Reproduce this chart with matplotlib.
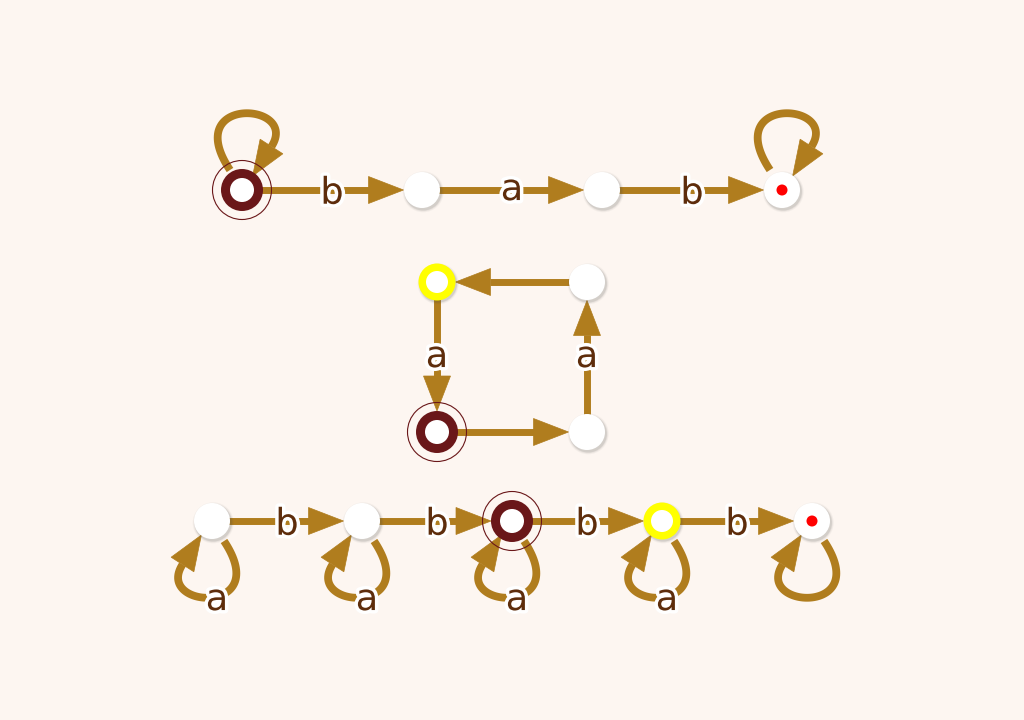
import numpy as np
import matplotlib
matplotlib.use('Agg')
import matplotlib.pyplot as plt
from matplotlib.patches import Circle, Polygon
from matplotlib.textpath import TextPath
from matplotlib.font_manager import FontProperties
import matplotlib.patheffects as pe

# ---- graph data ----
node_x = [242, 422, 602, 782, 437, 587, 437, 587, 212, 362, 512, 662, 812]
node_y = [190, 190, 190, 190, 282, 282, 432, 432, 521, 521, 521, 521, 521]
node_kind = ['start', 'plain', 'plain', 'final',
             'yellow', 'plain', 'start', 'plain',
             'plain', 'plain', 'start', 'yellow', 'final']

edge_src = [0, 1, 2, 6, 7, 5, 4, 8, 9, 10, 11]
edge_dst = [1, 2, 3, 7, 5, 4, 6, 9, 10, 11, 12]
edge_label = ['b', 'a', 'b', '', 'a', '', 'a', 'b', 'b', 'b', 'b']

loop_node = [0, 3, 8, 9, 10, 11, 12]
loop_side = ['up', 'up', 'down', 'down', 'down', 'down', 'down']
loop_label = ['', '', 'a', 'a', 'a', 'a', '']

# ---- style ----
BG = '#fdf6f1'
EDGE = '#b07d1e'
LABEL = '#5e2d0c'
RING = '#6a1719'
YELLOW = '#ffff00'
HEAD_L, HEAD_W, LW, LW_LOOP = 35.0, 13.5, 5.0, 5.6
FS_PT = 26.5
FS_PX = FS_PT * 100 / 72

fig = plt.figure(figsize=(10.24, 7.2), dpi=100, facecolor=BG)
ax = fig.add_axes([0, 0, 1, 1])
ax.set_facecolor(BG)
ax.set_xlim(0, 1024)
ax.set_ylim(720, 0)
ax.set_aspect('equal')
ax.axis('off')

fp = FontProperties(family='DejaVu Sans')


def vis_r(kind):
    return 21.0 if kind == 'start' else 18.5


def arrowhead(tip, d):
    d = d / np.linalg.norm(d)
    n = np.array([-d[1], d[0]])
    base = tip - HEAD_L * d
    pts = [tip, base + HEAD_W * n, base - HEAD_W * n]
    ax.add_patch(Polygon(pts, closed=True, fc=EDGE, ec=EDGE, lw=0.5, zorder=2))
    return base


def label(x, y, s):
    if not s:
        return
    tp = TextPath((0, 0), s, size=FS_PX, prop=fp)
    bb = tp.get_extents()
    off = (bb.y0 + bb.y1) / 2
    ax.text(x, y + off, s, fontsize=FS_PT, family='DejaVu Sans', color=LABEL,
            ha='center', va='baseline', zorder=6,
            path_effects=[pe.withStroke(linewidth=5, foreground='white')])


# straight edges
for s, t, lab in zip(edge_src, edge_dst, edge_label):
    p0 = np.array([node_x[s], node_y[s]], float)
    p1 = np.array([node_x[t], node_y[t]], float)
    d = (p1 - p0) / np.linalg.norm(p1 - p0)
    tip = p1 - d * vis_r(node_kind[t])
    base = arrowhead(tip, d)
    seg = np.array([p0, base + d * 1.0])
    ax.plot(seg[:, 0], seg[:, 1], color=EDGE, lw=LW, solid_capstyle='butt', zorder=1)
    mid = (p0 + p1) / 2
    label(mid[0], mid[1], lab)

# self loops (template defined for 'up', rotated 180 degrees for 'down')
S = np.array([-12.0, -20.0])
C1 = np.array([-62.0, -95.0])
C2 = np.array([58.0, -88.0])
B = np.array([29.5, -43.5])
tt = np.linspace(0, 1, 80)[:, None]
curve = (1 - tt) ** 3 * S + 3 * (1 - tt) ** 2 * tt * C1 + 3 * (1 - tt) * tt ** 2 * C2 + tt ** 3 * B
dir_end = (B - C2) / np.linalg.norm(B - C2)
for nd, side, lab in zip(loop_node, loop_side, loop_label):
    sgn = 1.0 if side == 'up' else -1.0
    c = np.array([node_x[nd], node_y[nd]], float)
    pts = c + sgn * curve
    ax.plot(pts[:, 0], pts[:, 1], color=EDGE, lw=LW_LOOP, solid_capstyle='butt', zorder=1)
    b = c + sgn * B
    d = sgn * dir_end
    arrowhead(b + HEAD_L * d, d)
    lp = c + sgn * np.array([-5.0, -79.0])
    label(lp[0], lp[1], lab)

# nodes
for x, y, k in zip(node_x, node_y, node_kind):
    if k == 'start':
        ax.add_patch(Circle((x, y), 21, fc=RING, ec='none', zorder=3))
        ax.add_patch(Circle((x, y), 12, fc='white', ec='none', zorder=4))
        ax.add_patch(Circle((x, y), 29.5, fill=False, ec=RING, lw=0.8, zorder=7))
        continue
    for r, a in [(20.5, 0.05), (19.5, 0.08), (18.7, 0.12)]:
        ax.add_patch(Circle((x + 1.2, y + 1.8), r, fc=(0.3, 0.3, 0.3, a), ec='none', zorder=3))
    if k == 'yellow':
        ax.add_patch(Circle((x, y), 18.5, fc=YELLOW, ec='none', zorder=4))
        ax.add_patch(Circle((x, y), 11, fc='white', ec='none', zorder=4))
    else:
        ax.add_patch(Circle((x, y), 18, fc='white', ec='none', zorder=4))
        if k == 'final':
            ax.add_patch(Circle((x, y), 5.5, fc='#ff0000', ec='none', zorder=5))

fig.savefig('out.png', dpi=100, facecolor=BG)
